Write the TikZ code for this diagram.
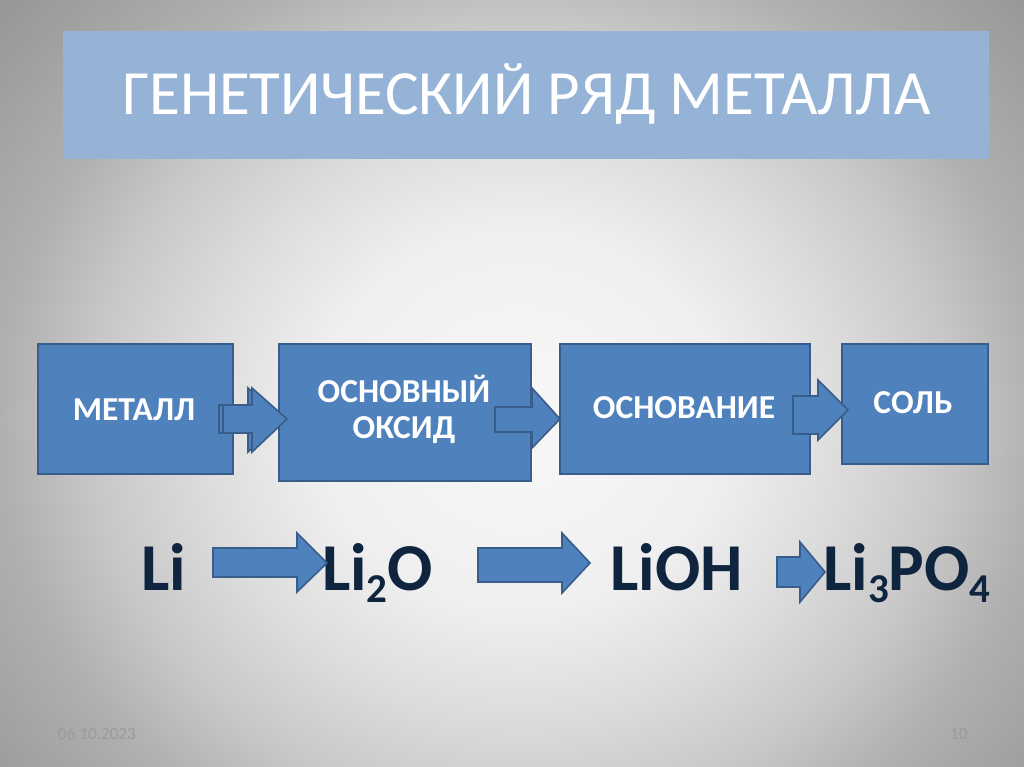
\documentclass[tikz,border=0pt]{standalone}
\usepackage{fontspec}
\setmainfont{Carlito}
\definecolor{boxfill}{HTML}{4F81BD}
\definecolor{boxline}{HTML}{385D8A}
\definecolor{titlefill}{HTML}{95B3D7}
\definecolor{formulac}{HTML}{0F243E}
\definecolor{footc}{HTML}{9A9A9A}
\definecolor{bgA}{HTML}{F8F8F8}
\definecolor{bgB}{HTML}{EFEFEF}
\definecolor{bgC}{HTML}{DCDCDC}
\definecolor{bgD}{HTML}{C8C8C8}
\definecolor{bgE}{HTML}{B0B0B0}
\definecolor{bgF}{HTML}{A0A0A0}
\definecolor{bgG}{HTML}{8E8E8E}
\definecolor{bgH}{HTML}{888888}
\pgfdeclareradialshading{bgshade}{\pgfpoint{0bp}{0bp}}{color(0bp)=(bgA); color(10bp)=(bgB); color(15.5bp)=(bgC); color(20.5bp)=(bgD); color(25bp)=(bgE); color(30bp)=(bgF); color(36bp)=(bgG); color(50bp)=(bgH)}
\newcommand{\blockarr}[8]{%
  \draw[barrow] (#1,#4) -- (#2,#4) -- (#2,#6) -- (#3,#8) -- (#2,#7) -- (#2,#5) -- (#1,#5) -- cycle;}
\newcommand{\subd}[1]{\raisebox{-12pt}{\fontsize{41}{41}\selectfont #1}}
\tikzset{
  box/.style={draw=boxline, fill=boxfill, line width=1.6pt, inner sep=0pt, anchor=north west},
  barrow/.style={draw=boxline, fill=boxfill, line width=1.6pt, line join=miter},
  boxtext/.style={text=white, font=\fontsize{33.5}{36}\selectfont\bfseries, anchor=base, inner sep=0pt, align=center},
  formula/.style={text=formulac, font=\fontsize{67}{70}\selectfont\bfseries, anchor=base west, inner sep=0pt},
  foot/.style={text=footc, font=\fontsize{17}{20}\selectfont, anchor=base west, inner sep=0pt},
}
\begin{document}
\begin{tikzpicture}[x=1pt, y=-1pt]
\useasboundingbox (0,0) rectangle (1024,767);
\begin{scope}
\clip (0,0) rectangle (1024,767);
\shade[shading=bgshade] (0,-60) rectangle (1040,900);
\end{scope}
% title band
\node[box, draw=none, fill=titlefill, minimum width=926pt, minimum height=128pt] (band) at (62,30) {};
\node[text=white, font=\fontsize{63}{70}\selectfont, anchor=base, inner sep=0pt] (title) at (526.5,115) {ГЕНЕТИЧЕСКИЙ РЯД МЕТАЛЛА};
% boxes
\node[box, minimum width=195pt, minimum height=130pt] (b1) at (37,343) {};
\node[box, minimum width=252pt, minimum height=137pt] (b2) at (278,343) {};
\node[box, minimum width=250pt, minimum height=130pt] (b3) at (559,343) {};
\node[box, minimum width=146pt, minimum height=120pt] (b4) at (841,343) {};
\node[boxtext] (t1) at (134,420) {МЕТАЛЛ};
\node[boxtext] (t2a) at (404,402) {ОСНОВНЫЙ};
\node[boxtext] (t2b) at (404,438) {ОКСИД};
\node[boxtext] (t3) at (684,418) {ОСНОВАНИЕ};
\node[boxtext] (t4) at (913,413) {СОЛЬ};
% arrows between boxes
\blockarr{219}{248}{283}{405}{433}{388}{452}{419}
\blockarr{223}{252}{287}{405}{433}{388}{452}{419}
\blockarr{495}{532}{560}{407}{432}{388}{448}{419}
\blockarr{793}{818}{848}{396}{434}{380}{440}{410}
% formulas
\node[formula] (f1) at (141,590) {Li};
\node[formula] (f2) at (322,590) {Li\subd{2}O};
\node[formula] (f3) at (610,590) {LiOH};
\node[formula] (f4) at (823,590) {Li\subd{3}PO\subd{4}};
\blockarr{213}{297}{327}{548}{577}{533}{592}{563}
\blockarr{478}{562}{590}{548}{582}{533}{593}{563}
\blockarr{777}{800}{825}{557}{587}{542}{602}{572}
% footer
\node[foot] (date) at (58,739) {06.10.2023};
\node[foot] (num) at (950,739) {10};
\end{tikzpicture}
\end{document}
